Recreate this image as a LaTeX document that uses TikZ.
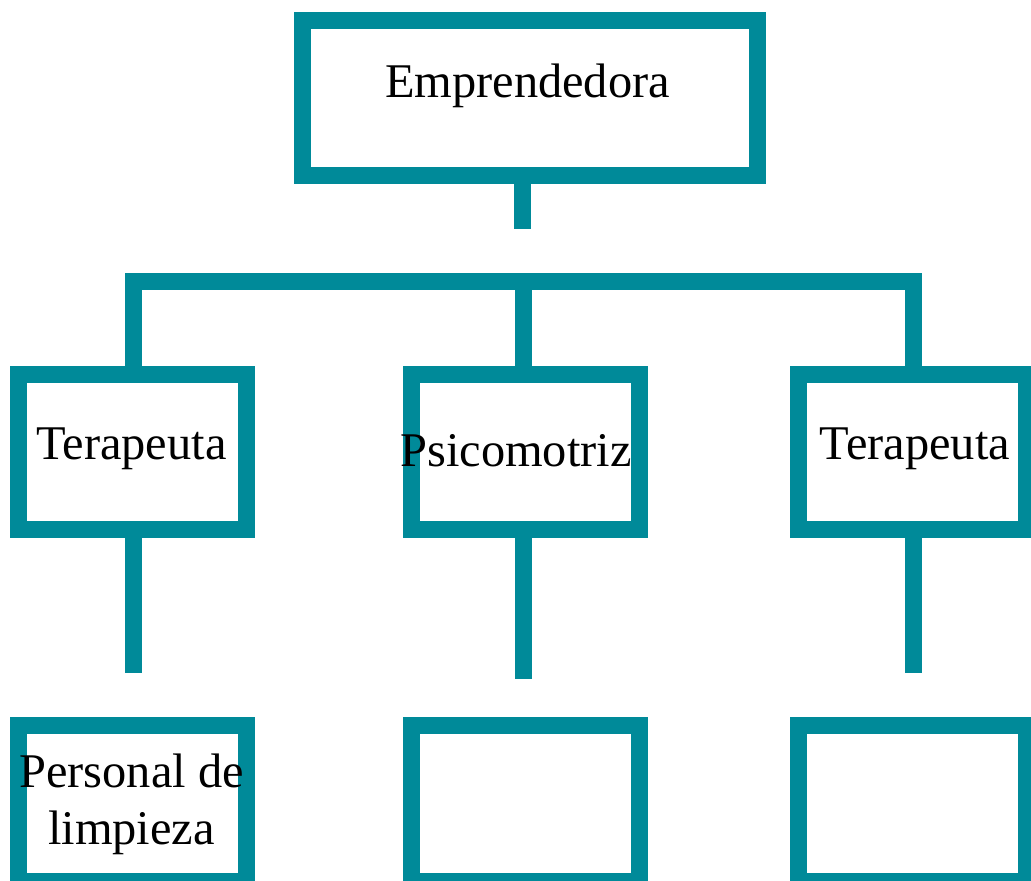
\documentclass[tikz,border=0pt]{standalone}
\usepackage{fontspec}
\setmainfont{Liberation Serif}
\definecolor{teal}{HTML}{008A99}
\begin{document}
\begin{tikzpicture}[x=1pt,y=-1pt,
  box/.style={draw=teal,line width=17pt,fill=white,rectangle,inner sep=0pt,outer sep=0pt,minimum width=228pt,minimum height=155pt},
  link/.style={draw=teal,line width=17pt,line join=miter},
  lbl/.style={font=\fontsize{48.4}{57}\selectfont,anchor=base,inner sep=0pt,align=center}]
\useasboundingbox (0,0) rectangle (1031,881);
\fill[white] (0,0) rectangle (1031,881);
% boxes
\node[box,minimum width=455pt] (top) at (530,98) {};
\node[box] (L) at (132.5,452) {};
\node[box] (M) at (525.5,452) {};
\node[box] (R) at (912,452) {};
\node[box,minimum height=156pt] (BL) at (132.5,803) {};
\node[box,minimum height=156pt] (BM) at (525.5,803) {};
\node[box,minimum height=156pt] (BR) at (912,803) {};
% coordinates for connectors
\coordinate (topout) at (522,184);
\coordinate (stubend) at (522,229);
\coordinate (barL) at (133,281);
\coordinate (barM) at (523,281);
\coordinate (barR) at (913,281);
\coordinate (Lin) at (133,366);
\coordinate (Min) at (523,366);
\coordinate (Rin) at (913,366);
\coordinate (Lout) at (133,538);
\coordinate (Mout) at (523,538);
\coordinate (Rout) at (913,538);
\coordinate (Lend) at (133,673);
\coordinate (Mend) at (523,679);
\coordinate (Rend) at (913,673);
% connectors
\draw[link] (topout) -- (stubend);
\draw[link] (Lin) -- (barL) -- (barR) -- (Rin);
\draw[link] (barM) -- (Min);
\draw[link] (Lout) -- (Lend);
\draw[link] (Mout) -- (Mend);
\draw[link] (Rout) -- (Rend);
% labels
\node[lbl] (tEmp) at (527.5,97.5) {Emprendedora};
\node[lbl] (tTL) at (131.5,459) {Terapeuta};
\node[lbl] (tPs) at (516,466.5) {Psicomotriz};
\node[lbl] (tTR) at (915,459) {Terapeuta};
\node[lbl] (tPe1) at (131.5,787) {Personal de};
\node[lbl] (tPe2) at (131.5,844) {limpieza};
\end{tikzpicture}
\end{document}
